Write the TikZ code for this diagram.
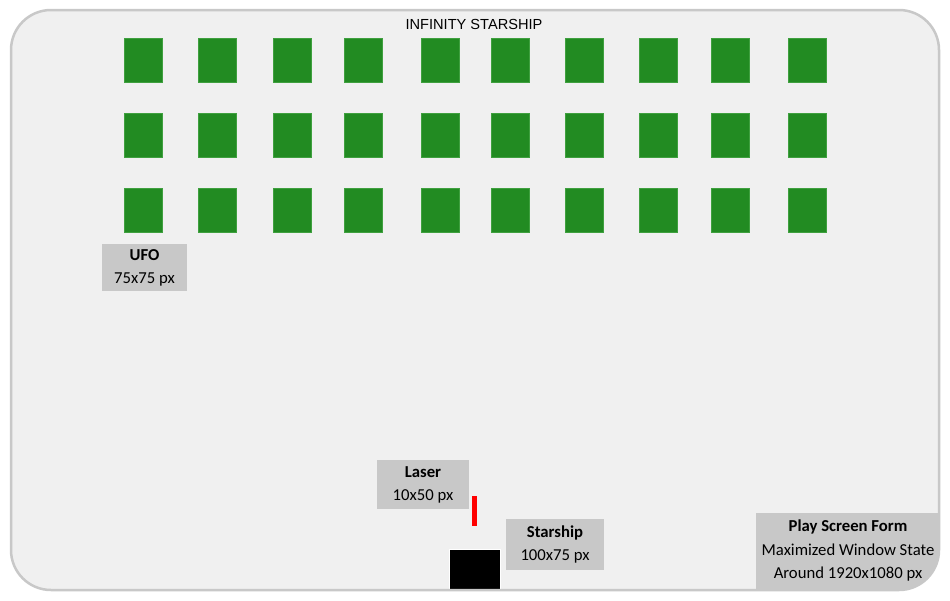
\documentclass[tikz,border=0pt]{standalone}
\usepackage{fontspec}
\setmainfont{Carlito}
\newfontfamily\titlefont{Liberation Sans}
\definecolor{screenbg}{HTML}{F0F0F0}
\definecolor{screenedge}{HTML}{C8C8C8}
\definecolor{ufogreen}{HTML}{228B22}
\definecolor{ufoedge}{HTML}{3FA03F}
\definecolor{labelgray}{HTML}{C8C8C8}
\definecolor{laserred}{HTML}{FF0000}
\tikzset{
  ufo/.style={draw=ufoedge, line width=0.8pt, fill=ufogreen, minimum width=38pt, minimum height=44pt, inner sep=0pt, anchor=north west},
  infobox/.style={fill=labelgray, inner sep=0pt, align=center, font=\fontsize{16.7}{23}\selectfont},
}
\begin{document}
\begin{tikzpicture}[x=1pt,y=-1pt]
\useasboundingbox (0,0) rectangle (950,600);
\fill[white] (0,0) rectangle (950,600);
\fill[screenbg, rounded corners=40pt] (11,10) rectangle (939,590);
\begin{scope}
  \clip[rounded corners=40pt] (11,10) rectangle (939,590);
  \fill[labelgray] (756,513) rectangle (945,595);
  \node[fill=black, draw=white, line width=0.8pt, minimum width=51pt, minimum height=45pt, inner sep=0pt, anchor=north west] (ship) at (449,549) {};
\end{scope}
\draw[screenedge, line width=2.5pt, rounded corners=40pt] (11,10) rectangle (939,590);
\node[font=\titlefont\fontsize{14.6}{17}\selectfont] (title) at (474,24) {INFINITY STARSHIP};
\foreach \r/\y in {1/38,2/113,3/188}{
  \foreach \c/\x in {1/124,2/198,3/273,4/344,5/421,6/491,7/565,8/639,9/711,10/788}{
    \node[ufo] (u\r-\c) at (\x,\y) {};
  }
}
\node[infobox, minimum width=85pt, minimum height=47pt] (ufolabel) at (144.5,267.5) {\textbf{UFO}\\75x75 px};
\node[infobox, minimum width=92pt, minimum height=49pt] (laserlabel) at (423,484.5) {\textbf{Laser}\\10x50 px};
\node[infobox, minimum width=98pt, minimum height=51pt] (shiplabel) at (555,544.5) {\textbf{Starship}\\100x75 px};
\node[fill=laserred, minimum width=5pt, minimum height=30pt, inner sep=0pt, anchor=north west] (laser) at (472,496) {};
\node[align=center, inner sep=0pt, font=\fontsize{16.7}{23.5}\selectfont] (formlabel) at (848,550.5) {\textbf{Play Screen Form}\\Maximized Window State\\Around 1920x1080 px};
\end{tikzpicture}
\end{document}
